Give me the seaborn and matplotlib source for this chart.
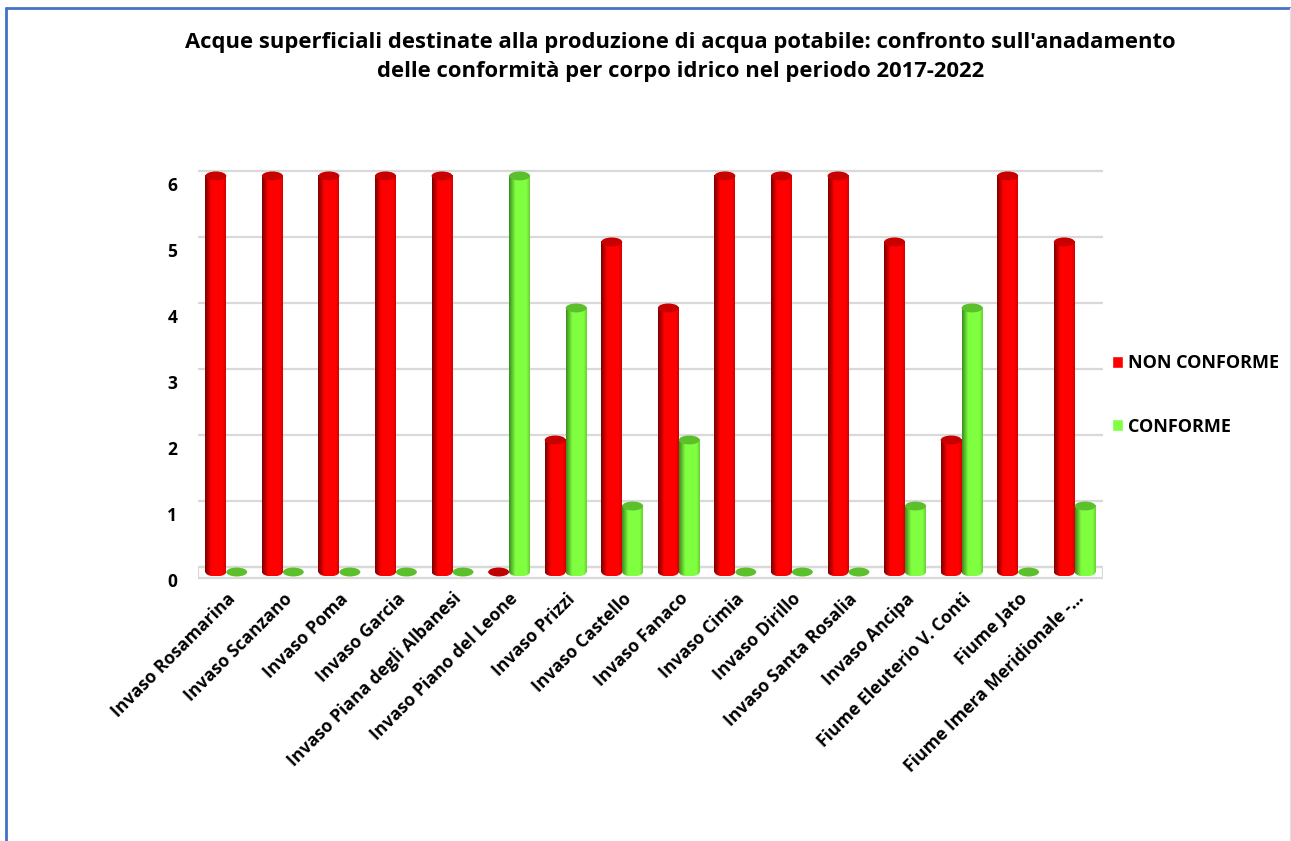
import matplotlib
matplotlib.use("Agg")
import matplotlib.pyplot as plt
from matplotlib.patches import Ellipse, Patch, Rectangle
from matplotlib.colors import LinearSegmentedColormap
from matplotlib.lines import Line2D
from matplotlib.transforms import ScaledTranslation
import numpy as np
import pandas as pd
import seaborn as sns

categories = [
    "Invaso Rosamarina", "Invaso Scanzano", "Invaso Poma", "Invaso Garcia",
    "Invaso Piana degli Albanesi", "Invaso Piano del Leone", "Invaso Prizzi",
    "Invaso Castello", "Invaso Fanaco", "Invaso Cimia", "Invaso Dirillo",
    "Invaso Santa Rosalia", "Invaso Ancipa", "Fiume Eleuterio V. Conti",
    "Fiume Jato", "Fiume Imera Meridionale -...",
]
non_conforme = [6, 6, 6, 6, 6, 0, 2, 5, 4, 6, 6, 6, 5, 2, 6, 5]
conforme = [0, 0, 0, 0, 0, 6, 4, 1, 2, 0, 0, 0, 1, 4, 0, 1]
series_names = ["NON CONFORME", "CONFORME"]
y_ticks = [0, 1, 2, 3, 4, 5, 6]
title = ("Acque superficiali destinate alla produzione di acqua potabile: confronto sull'anadamento\n"
         "delle conformità per corpo idrico nel periodo 2017-2022")

df = pd.DataFrame({
    "Corpo": categories * 2,
    "Esito": [series_names[0]] * len(categories) + [series_names[1]] * len(categories),
    "Valore": non_conforme + conforme,
})

sns.set_style("white")
plt.rcParams["font.family"] = ["Open Sans", "DejaVu Sans"]
plt.rcParams["text.color"] = "black"
plt.rcParams["xtick.color"] = "black"
plt.rcParams["ytick.color"] = "black"

W, H = 1291, 841
fig = plt.figure(figsize=(W / 100, H / 100), dpi=100)
ax = fig.add_axes([198 / W, 1 - 580 / H, 905 / W, 412 / H])

red, green = "#ff0000", "#80ff40"
sns.barplot(data=df, x="Corpo", y="Valore", hue="Esito", hue_order=series_names,
            palette=[red, green], width=0.74, gap=0, legend=False, ax=ax,
            errorbar=None, saturation=1, zorder=2)

styles = [
    dict(cmap=LinearSegmentedColormap.from_list("r", [(0, "#7a0000"), (0.3, "#ff0000"), (0.85, "#ff0000"), (1, "#d40000")]),
         cap="#c80000", zero="#c00000"),
    dict(cmap=LinearSegmentedColormap.from_list("g", [(0, "#3c8c1e"), (0.3, "#80ff40"), (0.85, "#80ff40"), (1, "#68d034")]),
         cap="#5cbf2c", zero="#5cbf2c"),
]
eh = 0.135
grad = np.linspace(0, 1, 64).reshape(1, -1)
for cont, st in zip(ax.containers, styles):
    for bar in cont:
        x0, w, h = bar.get_x(), bar.get_width(), bar.get_height()
        bar.set_visible(False)
        xc = x0 + w / 2
        if h > 0:
            ax.imshow(grad, cmap=st["cmap"], extent=(x0, x0 + w, 0, h), aspect="auto",
                      zorder=3, interpolation="bilinear")
            el = Ellipse((xc, 0), w, eh, transform=ax.transData)
            im = ax.imshow(grad, cmap=st["cmap"], extent=(x0, x0 + w, -eh / 2, eh / 2),
                           aspect="auto", zorder=3, interpolation="bilinear")
            im.set_clip_path(el)
            ax.add_patch(Ellipse((xc, h), w, eh, facecolor=st["cap"], edgecolor="none", zorder=4))
        else:
            ax.add_patch(Ellipse((xc, 0), w, eh, facecolor=st["zero"], edgecolor="none", zorder=4))

# back-wall gridlines and floor
goff = 0.076
ax.hlines([t + goff for t in y_ticks], -0.5, 15.5, color="#d9d9d9", lw=1.6, zorder=0)
ax.add_patch(Rectangle((-0.5, -0.09), 16, 0.09 + goff, facecolor="none",
                       edgecolor="#d9d9d9", lw=1.6, zorder=1))

ax.set_xlim(-0.5, 15.5)
ax.set_ylim(-0.121, 6.12)
ax.set_yticks(y_ticks)
ax.set_yticklabels([str(t) for t in y_ticks], fontweight="bold", fontsize=12.5)
ax.set_xticks(range(len(categories)))
ax.set_xticklabels(categories, rotation=45, ha="right", rotation_mode="anchor",
                   fontweight="bold", fontsize=12.6)
ax.tick_params(axis="x", length=0, pad=7)
ax.tick_params(axis="y", length=0, pad=15)
shift = ScaledTranslation(0, -8 / 100, fig.dpi_scale_trans)
for lab in ax.get_yticklabels():
    lab.set_transform(lab.get_transform() + shift)
ax.set_xlabel("")
ax.set_ylabel("")
for s in ax.spines.values():
    s.set_visible(False)

handles = [Patch(facecolor=red), Patch(facecolor=green)]
fig.legend(handles, series_names, loc="center left", bbox_to_anchor=(1096 / W, 1 - 395 / H),
           frameon=False, handlelength=0.6, handleheight=0.6, handletextpad=0.25,
           labelspacing=2.5, prop=dict(weight="bold", size=13))

fig.text(0.527, 1 - 57 / H, title, ha="center", va="center", fontsize=15.8,
         fontweight="bold", linespacing=1.5)

# outer frame
fig.add_artist(Line2D([6 / W, 6 / W], [0, 1 - 8 / H], transform=fig.transFigure, color="#4472c4", lw=2))
fig.add_artist(Line2D([6 / W, 1], [1 - 8 / H, 1 - 8 / H], transform=fig.transFigure, color="#4472c4", lw=2))
fig.add_artist(Line2D([1289.5 / W, 1289.5 / W], [0, 1 - 8 / H], transform=fig.transFigure, color="#dde3ea", lw=1))

fig.savefig("out.png", dpi=100)
